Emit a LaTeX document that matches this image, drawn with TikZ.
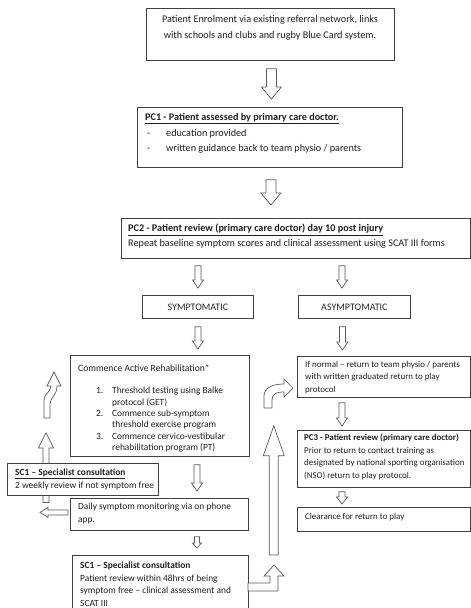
\documentclass[tikz,border=0pt]{standalone}
\usepackage{fontspec}
\setmainfont{Carlito}
\usetikzlibrary{calc}
\tikzset{
 box/.style={draw=black!75, line width=0.8pt, fill=white, inner sep=0pt, anchor=north west, text=black!85, font=\fontsize{10}{12}\selectfont},
 txt/.style={inner sep=0pt, anchor=north west, align=left, text=black!88, font=\fontsize{10.2}{15.5}\selectfont},
 small/.style={font=\fontsize{9.4}{12.5}\selectfont},
 rsmall/.style={font=\fontsize{8.9}{12.5}\selectfont},
 blk/.style={draw=black!65, line width=0.7pt, fill=white, line join=miter},
}
\newcommand\arrdown[5]{\draw[blk] let \p1=(#1),\p2=(#2) in (\x1-#3pt,\y1) -- (\x1+#3pt,\y1) -- (\x1+#3pt,\y2+#5pt) -- (\x1+#4pt,\y2+#5pt) -- (\x1,\y2) -- (\x1-#4pt,\y2+#5pt) -- (\x1-#3pt,\y2+#5pt) -- cycle;}
\newcommand\arrup[5]{\draw[blk] let \p1=(#1),\p2=(#2) in (\x1-#3pt,\y1) -- (\x1+#3pt,\y1) -- (\x1+#3pt,\y2-#5pt) -- (\x1+#4pt,\y2-#5pt) -- (\x1,\y2) -- (\x1-#4pt,\y2-#5pt) -- (\x1-#3pt,\y2-#5pt) -- cycle;}
\newcommand\arrleft[5]{\draw[blk] let \p1=(#1),\p2=(#2) in (\x1,\y1-#3pt) -- (\x1,\y1+#3pt) -- (\x2+#5pt,\y1+#3pt) -- (\x2+#5pt,\y1+#4pt) -- (\x2,\y1) -- (\x2+#5pt,\y1-#4pt) -- (\x2+#5pt,\y1-#3pt) -- cycle;}
\begin{document}
\begin{tikzpicture}[x=1pt,y=-1pt]
\useasboundingbox (0,0) rectangle (471,608);
\clip (0,0) rectangle (471,608);
\fill[white] (0,0) rectangle (471,608);

% main column
\node[box, minimum width=248pt, minimum height=52pt] (enrol) at (146,8) {};
\node[txt, anchor=north, align=center, font=\fontsize{10.2}{16}\selectfont] (enrolt) at (270,15) {Patient Enrolment via existing referral network, links\\with schools and clubs and rugby Blue Card system.};

\node[box, minimum width=265pt, minimum height=60pt] (pc1) at (137,107) {};
\node[txt] (pc1t) at (145,113) {\underline{\textbf{PC1 - Patient assessed by primary care doctor.}}};
\node[txt] (pc1l) at (147,129) {\makebox[19pt][l]{-}education provided\\\makebox[19pt][l]{-}written guidance back to team physio / parents};

\node[box, minimum width=349pt, minimum height=40pt] (pc2) at (121,218) {};
\node[txt, font=\fontsize{10.2}{15}\selectfont] (pc2t) at (128,224) {\underline{\textbf{PC2 - Patient review (primary care doctor) day 10 post injury}}\\Repeat baseline symptom scores and clinical assessment using SCAT III forms};

\node[box, minimum width=111pt, minimum height=23pt] (sym) at (142,295) {SYMPTOMATIC};
\node[box, minimum width=112pt, minimum height=23pt] (asym) at (298,295) {ASYMPTOMATIC};

% left column
\node[box, minimum width=179pt, minimum height=101pt] (rehab) at (70,355) {};
\node[txt, small, font=\fontsize{9.6}{12}\selectfont] (rehabt) at (78,364) {Commence Active Rehabilitation*};
\node[txt, small, font=\fontsize{9.4}{11.4}\selectfont] (rehabl) at (96,387) {\makebox[16pt][l]{1.}Threshold testing using Balke\\\hspace*{16pt}protocol (GET)\\\makebox[16pt][l]{2.}Commence sub-symptom\\\hspace*{16pt}threshold exercise program\\\makebox[16pt][l]{3.}Commence cervico-vestibular\\\hspace*{16pt}rehabilitation program (PT)};

\node[box, minimum width=178pt, minimum height=32pt] (daily) at (70,498) {};
\node[txt, small, font=\fontsize{9.4}{12.5}\selectfont] (dailyt) at (78,503) {Daily symptom monitoring via on phone\\app.};

\node[box, minimum width=176pt, minimum height=70pt] (sc1b) at (72,555) {};
\node[txt, small] (sc1bt) at (80,562) {\textbf{SC1 – Specialist consultation}\\Patient review within 48hrs of being\\symptom free – clinical assessment and\\SCAT III};

% right column
\node[box, minimum width=173pt, minimum height=41pt] (normal) at (297,356) {};
\node[txt, rsmall] (normalt) at (305,361) {If normal – return to team physio / parents\\with written graduated return to play\\protocol};

\node[box, minimum width=173pt, minimum height=57pt] (pc3) at (297,430) {};
\node[txt, rsmall] (pc3t) at (304,434) {\textbf{PC3 - Patient review (primary care doctor)}\\Prior to return to contact training as\\designated by national sporting organisation\\(NSO) return to play protocol.};

\node[box, minimum width=173pt, minimum height=24pt] (clear) at (297,507) {};
\node[txt, rsmall] (cleart) at (305,513) {Clearance for return to play};

% straight block arrows
\arrdown{$(enrol.south)+(1,8)$}{$(pc1.north)+(1,-8)$}{5}{10}{12}
\arrdown{$(pc1.south)+(1,12)$}{$(pc2.north)+(0,-13)$}{5}{10}{12}
\arrdown{$(pc2.south west)+(77,7)$}{$(sym.north)+(0,-7)$}{3}{5.5}{8}
\arrdown{$(pc2.south west)+(221,7)$}{$(asym.north)+(0,-7)$}{3}{5.5}{8}
\arrdown{$(sym.south)+(0,8)$}{$(rehab.north)+(0,-6)$}{3}{5.5}{8}
\arrdown{$(asym.south)+(-12,8)$}{$(normal.north)+(0,-6)$}{3}{5.5}{8}
\arrdown{$(normal.south west)+(45,5)$}{$(pc3.north)+(0,-4)$}{3}{5.5}{8}
\arrdown{$(pc3.south west)+(45,4)$}{$(clear.north)+(0,-3)$}{3}{5.5}{7}
\arrdown{$(rehab.south west)+(127,8)$}{$(daily.north)+(0,-7)$}{3}{5.5}{8}
\arrdown{$(daily.south west)+(127,6)$}{$(sc1b.north)+(0,-7)$}{2.5}{4.5}{5}

% long up arrow on the right
\arrup{$(sc1b.north east)+(25,0)$}{$(normal.south west)+(-25,28)$}{4.5}{10.5}{30}

% left loop: up arrow behind SC1 box, left arrow from daily monitoring
\arrup{$(daily.west)+(-24,-12)$}{$(rehab.west)+(-24,27)$}{3}{7.5}{15}
\arrleft{$(daily.west)+(-2,-2)$}{$(daily.west)+(-30,-2)$}{2.5}{5}{8}

\node[box, minimum width=151pt, minimum height=32pt] (sc1l) at (7,463) {};
\node[txt, small, font=\fontsize{9.4}{13}\selectfont] (sc1lt) at (15,469) {\underline{\textbf{SC1 – Specialist consultation}}\\2 weekly review if not symptom free};

% curved arrow upper left
\draw[blk] (44,418) -- (44,401) .. controls (44,393) and (51,392) .. (51,386) -- (47,386) -- (54,372) -- (61,386) -- (57,386) .. controls (57,396) and (50,397) .. (50,404) -- (50,418) -- cycle;

% curved arrow to "If normal"
\draw[blk] (264,408) -- (264,396) .. controls (264,388) and (272,384) .. (284,384) -- (284,379) -- (293,388) -- (284,397) -- (284,392) .. controls (276,392) and (272,394) .. (272,400) -- (272,408) -- cycle;

% bent arrow from bottom SC1
\draw[blk] (248,583) -- (270,583) -- (270,576) -- (264,576) -- (274,565) -- (284,576) -- (278,576) -- (278,591) -- (248,591) -- cycle;
\end{tikzpicture}
\end{document}
